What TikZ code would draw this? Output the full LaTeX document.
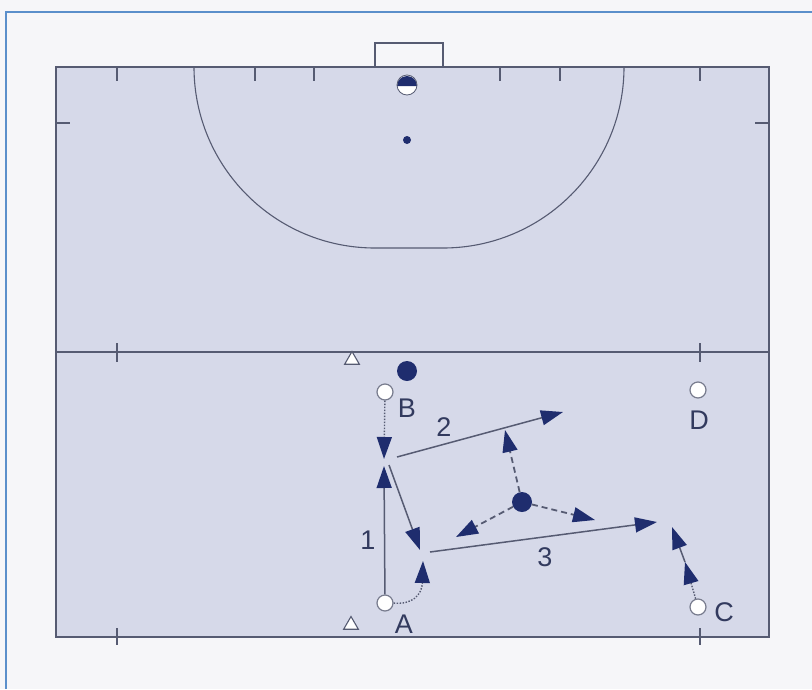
\documentclass[tikz,border=0pt]{standalone}
\usepackage{fontspec}
\setmainfont{Liberation Sans}
\usetikzlibrary{arrows.meta,shapes.geometric}
\definecolor{bgc}{HTML}{F6F6F9}
\definecolor{fieldc}{HTML}{D6D9E9}
\definecolor{linec}{HTML}{565B72}
\definecolor{navy}{HTML}{1F2D6E}
\definecolor{framec}{HTML}{5B8FCB}
\definecolor{textc}{HTML}{323A5E}
\tikzset{
  fieldline/.style={draw=linec, line width=1.1pt},
  tickline/.style={draw=linec, line width=1.1pt},
  player/.style={circle, draw=linec!80, fill=white, line width=1.2pt, minimum size=16pt, inner sep=0pt},
  ballnode/.style={circle, fill=navy, minimum size=20pt, inner sep=0pt},
  smalldot/.style={circle, fill=navy, minimum size=8pt, inner sep=0pt},
  umpire/.style={regular polygon, regular polygon sides=3, draw=linec, fill=white, line width=1.1pt, minimum size=17pt, inner sep=0pt},
  lbl/.style={text=textc, font=\fontsize{27}{30}\selectfont, inner sep=0pt},
  tip/.style={-{Triangle[length=22pt,width=15pt,fill=navy,color=navy]}},
  passline/.style={tip, draw=linec, line width=1.5pt},
  runline/.style={tip, draw=linec, line width=1.4pt, dash pattern=on 1.5pt off 1.5pt},
  dribble/.style={tip, draw=linec, line width=1.8pt, dash pattern=on 6pt off 4pt},
}
\begin{document}
\begin{tikzpicture}[x=1pt,y=-1pt]
\useasboundingbox (0,0) rectangle (812,689);
\fill[bgc] (0,0) rectangle (812,689);
% frame
\draw[framec, line width=1.6pt] (6,689) -- (6,12) -- (812,12);
% field
\filldraw[fill=fieldc, fieldline] (56,67) rectangle (769,637);
\draw[fieldline] (56,352) -- (769,352);
% goal
\draw[fieldline] (375,67) -- (375,43) -- (443,43) -- (443,67);
% shooting circle
\draw[fieldline] (194,67) arc[start angle=180,end angle=90,radius=181] -- (443,248) arc[start angle=90,end angle=0,radius=181];
% ticks
\foreach \tx in {117,255,314,500,560,700} \draw[tickline] (\tx,67) -- (\tx,81);
\draw[tickline] (56,123) -- (70,123);
\draw[tickline] (755,123) -- (769,123);
\foreach \tx in {117,700} {
  \draw[tickline] (\tx,343) -- (\tx,362);
  \draw[tickline] (\tx,628) -- (\tx,645);
}
% keeper
\fill[white] (407,85) circle[radius=10];
\fill[navy] (397,86) arc[start angle=180,end angle=360,radius=10] -- cycle;
\draw[linec, line width=0.8pt] (407,85) circle[radius=10];
\node[smalldot] (spot) at (407,140) {};
% umpires
\node[umpire] (u1) at (352,360) {};
\node[umpire] (u2) at (351,625) {};
% balls
\node[ballnode] (ball1) at (407,371) {};
\node[ballnode] (ball2) at (522,502) {};
% players
\node[player] (B) at (385,392) {};
\node[player] (A) at (385,603) {};
\node[player] (D) at (698,390) {};
\node[player] (C) at (698,607) {};
\node[lbl] (labB) at (407,408) {B};
\node[lbl] (labA) at (404,624) {A};
\node[lbl] (labD) at (699,420) {D};
\node[lbl] (labC) at (724,612) {C};
\node[lbl] (lab1) at (368,540) {1};
\node[lbl] (lab2) at (444,427) {2};
\node[lbl] (lab3) at (545,557) {3};
% coordinates
\coordinate (xb) at (384,459);
\coordinate (xa) at (384,466);
\coordinate (p2s) at (397,457);
\coordinate (p2e) at (563,412);
\coordinate (r1s) at (389,465);
\coordinate (r1e) at (420,550);
\coordinate (are) at (423,561);
\coordinate (p3s) at (430,552);
\coordinate (p3e) at (657,522);
\coordinate (bu) at (505,430);
\coordinate (bl) at (456,537);
\coordinate (br) at (595,520);
\coordinate (c1) at (685,562);
\coordinate (c2) at (672,527);
% moves
\draw[runline] (B) -- (xb);
\draw[passline] (A) -- (xa);
\draw[passline] (p2s) -- (p2e);
\draw[passline] (r1s) -- (r1e);
\draw[runline] (A.east) .. controls (412,605) and (422,595) .. (are);
\draw[passline] (p3s) -- (p3e);
\draw[dribble] (ball2) -- (bu);
\draw[dribble] (ball2) -- (bl);
\draw[dribble] (ball2) -- (br);
\draw[runline] (C) -- (c1);
\draw[passline] (c1) -- (c2);
\end{tikzpicture}
\end{document}
